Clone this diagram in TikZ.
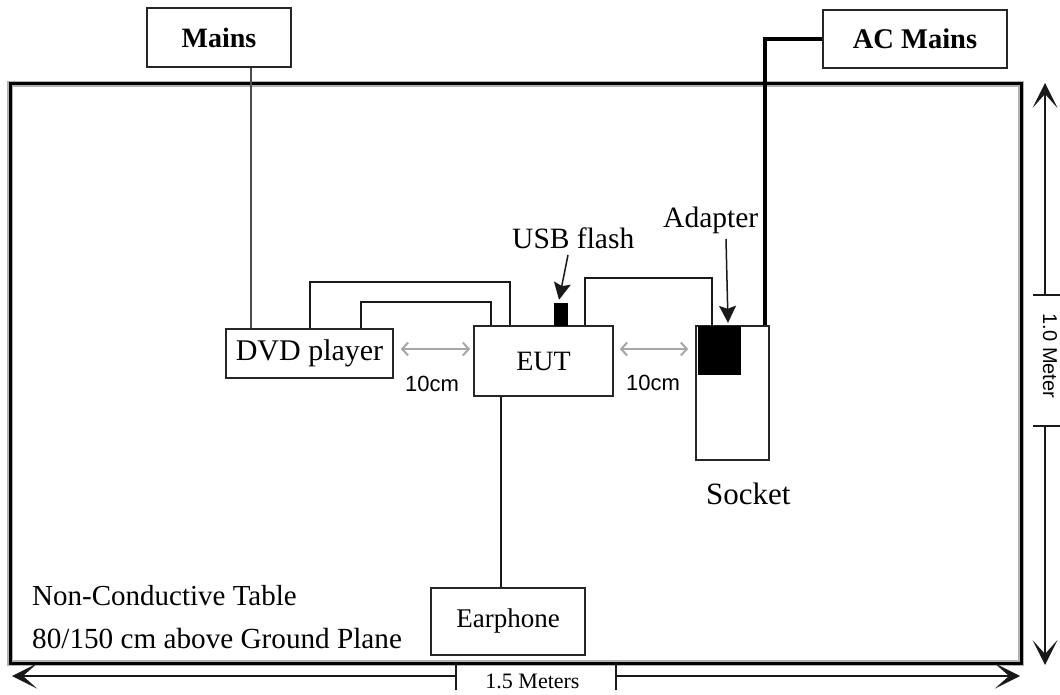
\documentclass[tikz,border=0pt]{standalone}
\usepackage{fontspec}
\setmainfont{Liberation Serif}
\newfontfamily\arialfam{Liberation Sans}
\usetikzlibrary{arrows.meta,calc}
\newcommand\fsz[1]{\fontsize{#1}{#1}\selectfont}
\begin{document}
\begin{tikzpicture}[x=1pt,y=-1pt,
  box/.style={draw=black!85,line width=1.6pt,fill=white,inner sep=0pt,rectangle},
  blk/.style={fill=black,inner sep=0pt,rectangle},
  lbl/.style={inner sep=0pt,anchor=base west},
  cable/.style={draw=black!90,line width=1.8pt},
  mainsline/.style={draw=black!70,line width=1.6pt},
  acline/.style={draw=black,line width=4pt},
  gap/.style={draw=black!35,line width=2pt,{Straight Barb[length=6pt,width=13pt]}-{Straight Barb[length=6pt,width=13pt]}},
  pointer/.style={draw=black!90,line width=1.5pt,-{Stealth[length=17pt,width=17pt,inset=3pt]}},
  dimline/.style={draw=black!90,line width=1.2pt},
  dimarrow/.style={dimline,-{Stealth[length=25pt,width=25pt,inset=14pt]}}]
\useasboundingbox (0,0) rectangle (1060,695);
% table
\draw[draw=black!30,line width=5.5pt] (10,84) rectangle (1021,663);
\draw[line width=3pt] (10,84) rectangle (1021,663);
% boxes
\node[box,minimum width=144pt,minimum height=59pt,font=\bfseries\fsz{28}] (mains) at (219,37.5) {Mains};
\node[box,minimum width=184pt,minimum height=58pt,font=\bfseries\fsz{28.5}] (acmains) at (915,39) {AC Mains};
\node[box,minimum width=167pt,minimum height=49pt,font=\fsz{30}] (dvd) at (309.5,353.5) {DVD player};
\node[box,minimum width=139pt,minimum height=70pt,font=\fsz{28}] (eut) at (543.5,361) {EUT};
\node[box,minimum width=73pt,minimum height=134pt] (socket) at (732.5,393) {};
\node[box,minimum width=154pt,minimum height=67pt,font=\fsz{27}] (earphone) at (508,621.5) {Earphone};
\node[blk,minimum width=14pt,minimum height=23pt] (usb) at (561,314.5) {};
\node[blk,minimum width=43pt,minimum height=49pt] (adapter) at (719.5,350.5) {};
% cables
\coordinate (m1) at ([xshift=32pt]mains.south);
\draw[mainsline] (m1) -- (m1 |- dvd.north);
\draw[cable] ([xshift=0.5pt]dvd.north) -- ++(0,-46) -| ([xshift=-33.5pt]eut.north);
\draw[cable] ([xshift=51.5pt]dvd.north) -- ++(0,-26) -| ([xshift=-52.5pt]eut.north);
\draw[cable] ([xshift=41.5pt]eut.north) -- ++(0,-47) -| ([xshift=-20.5pt]socket.north);
\draw[acline] (acmains.west) -| ([xshift=32.5pt]socket.north);
\coordinate (e1) at ([xshift=-42.5pt]eut.south);
\draw[cable] (e1) -- (e1 |- earphone.north);
% labels
\node[lbl,font=\fsz{29.5}] (usbtxt) at (512,248) {USB flash};
\node[lbl,font=\fsz{29.5}] (adtxt) at (663,227) {Adapter};
\node[lbl,font=\fsz{31}] (socktxt) at (706,504) {Socket};
\node[lbl,font=\fsz{29}] (nct) at (32,605) {Non-Conductive Table};
\node[lbl,font=\fsz{29.2}] (gp) at (32,648) {80/150 cm above Ground Plane};
\node[lbl,font=\arialfam\fsz{22}] (d1) at (405,391) {10cm};
\node[lbl,font=\arialfam\fsz{22}] (d2) at (626,390) {10cm};
\node[inner sep=0pt,anchor=base,font=\fsz{22}] (lm) at (532.5,688) {1.5 Meters};
\node[inner sep=0pt,rotate=-90,font=\arialfam\fsz{20}] (hm) at (1050,356) {1.0 Meter};
% pointers
\draw[pointer] ([shift={(56,7)}]usbtxt.base west) -- ([shift={(-2,-3)}]usb.north);
\draw[pointer] ([shift={(63,12)}]adtxt.base west) -- ([shift={(8.5,-3)}]adapter.north);
% spacing arrows
\draw[gap] ([shift={(7,-4.5)}]dvd.east) -- ([shift={(-3,-12)}]eut.west);
\draw[gap] ([shift={(6,-12)}]eut.east) -- ([shift={(-7,-44)}]socket.west);
% dimensions
\coordinate (vt1) at (1045,295);
\coordinate (vt2) at (1045,426);
\coordinate (ht1) at (456,676);
\coordinate (ht2) at (616,676);
\draw[dimarrow] (vt1) -- (1045,83);
\draw[dimarrow] (vt2) -- (1045,665);
\draw[dimline] (1033,295) -- (1060,295);
\draw[dimline] (1033,426) -- (1060,426);
\draw[dimarrow] (ht1) -- (12,676);
\draw[dimarrow] (ht2) -- (1020,676);
\draw[dimline] (456,663) -- (456,690);
\draw[dimline] (616,663) -- (616,690);
\end{tikzpicture}
\end{document}
